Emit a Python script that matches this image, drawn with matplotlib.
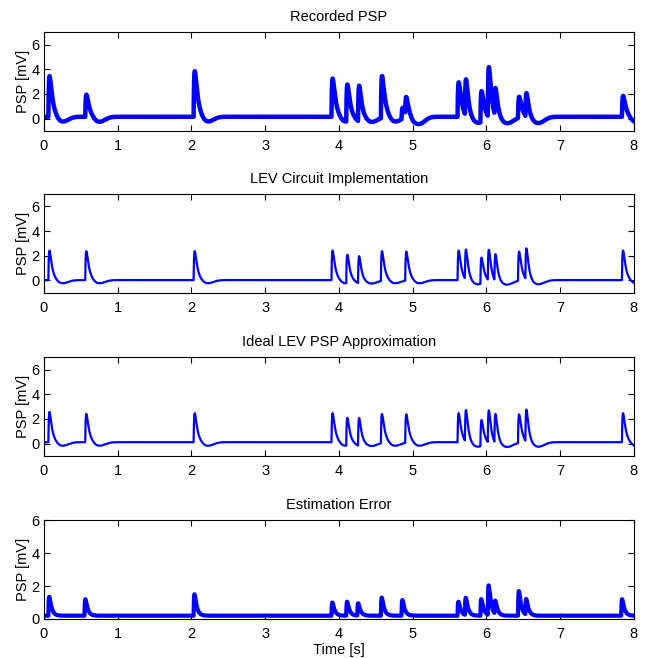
import numpy as np
import matplotlib.pyplot as plt

plt.rcParams['font.family'] = ['Liberation Sans', 'DejaVu Sans']
plt.rcParams['font.size'] = 10.5

# event times [s] and peak heights [mV]
rec_times = [0.06, 0.56, 2.03, 3.90, 4.10, 4.26, 4.57, 4.85, 4.90, 5.61, 5.71,
             5.92, 6.02, 6.11, 6.43, 6.53, 7.84]
rec_amps = [3.3, 1.8, 3.7, 3.1, 3.0, 2.9, 3.4, 0.9, 1.4, 2.8, 3.0,
            2.5, 4.1, 2.3, 1.7, 2.0, 1.7]

lev_times = [0.06, 0.56, 2.03, 3.90, 4.10, 4.26, 4.57, 4.90, 5.61, 5.71,
             5.92, 6.02, 6.11, 6.43, 6.53, 7.84]
lev_amps = [2.4, 2.35, 2.35, 2.4, 2.3, 2.2, 2.4, 2.35, 2.4, 2.45,
            2.1, 2.5, 2.2, 2.35, 2.55, 2.4]

ideal_times = lev_times
ideal_amps = [2.45, 2.3, 2.35, 2.35, 2.25, 2.25, 2.35, 2.3, 2.35, 2.6,
              2.1, 2.65, 2.4, 2.3, 2.65, 2.35]

err_times = [0.06, 0.55, 2.03, 3.90, 4.10, 4.25, 4.57, 4.85, 5.61, 5.71,
             5.92, 6.02, 6.11, 6.43, 6.53, 7.83]
err_amps = [1.15, 1.0, 1.3, 0.8, 0.85, 0.75, 1.1, 0.95, 0.85, 1.05,
            1.0, 1.8, 0.8, 1.5, 0.95, 1.0]

titles = ['Recorded PSP', 'LEV Circuit Implementation',
          'Ideal LEV PSP Approximation', 'Estimation Error']


def psp(t, times, amps, base, td, tr=0.008, dip=0.0, dmax=1.0, tmax=None):
    # sum of double-exponential PSPs with a slow undershoot after each one
    s0 = np.linspace(0, 0.2, 4001)
    kpeak = np.max(np.exp(-s0 / td) - np.exp(-s0 / tr))
    y = np.zeros_like(t)
    u = np.zeros_like(t)
    for t0, a in zip(times, amps):
        s = t - t0
        m = s >= 0
        if tmax is not None:
            m &= s < tmax
        sm = s[m]
        y[m] += a * (np.exp(-sm / td) - np.exp(-sm / tr)) / kpeak
        w = np.where(sm < 0.18, 0.08, 0.11)
        u[m] += dip * np.exp(-((sm - 0.18) / w) ** 2)
    return base + y - dmax * np.tanh(u / dmax)


t = np.arange(0, 8.0005, 0.0005)
traces = [
    psp(t, rec_times, rec_amps, 0.15, td=0.04, dip=0.5, dmax=0.75),
    psp(t, lev_times, lev_amps, 0.03, td=0.035, dip=0.3, dmax=0.6, tmax=0.42),
    psp(t, ideal_times, ideal_amps, 0.12, td=0.035, dip=0.35, dmax=0.55, tmax=0.42),
    psp(t, err_times, err_amps, 0.2, td=0.03, tr=0.006),
]
widths = [3.2, 1.6, 1.6, 3.0]
ylims = [(-1, 7), (-1, 7), (-1, 7), (0, 6)]

fig = plt.figure(figsize=(6.46, 6.58), dpi=100)
bottoms = [0.801, 0.555, 0.307, 0.0593]
for i in range(4):
    ax = fig.add_axes([0.068, bottoms[i], 0.913, 0.150])
    ax.plot(t, traces[i], color='b', lw=widths[i])
    ax.set_xlim(0, 8)
    ax.set_ylim(*ylims[i])
    ax.set_xticks(range(9))
    ax.set_yticks([0, 2, 4, 6])
    ax.tick_params(direction='in', top=True, right=True, length=4,
                   width=0.8, pad=6, labelsize=10.5)
    ax.tick_params(axis='y', pad=3)
    ax.set_title(titles[i], fontsize=10.5, pad=8)
    ax.set_ylabel('PSP [mV]', labelpad=1)
    for sp in ax.spines.values():
        sp.set_linewidth(0.8)
    if i == 3:
        ax.set_xlabel('Time [s]', labelpad=1)

fig.savefig('out.png', dpi=100)
